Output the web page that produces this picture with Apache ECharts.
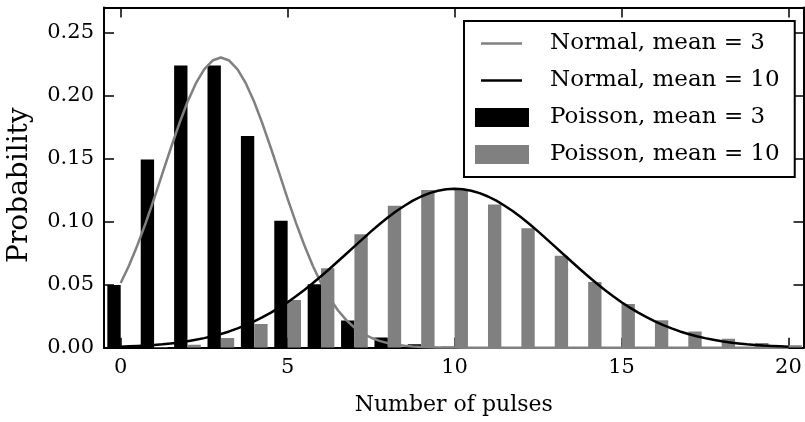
<!DOCTYPE html>
<html><head><meta charset="utf-8">
<script src="https://cdn.jsdelivr.net/npm/echarts@6/dist/echarts.min.js"></script>
<style>html,body{margin:0;padding:0;background:#fff}#c{width:805px;height:422px}</style>
</head><body><div id="c"></div>
<script>
// ---- data ----
const pulses = [0,1,2,3,4,5,6,7,8,9,10,11,12,13,14,15,16,17,18,19,20];
const poisson3 = [0.0498,0.1494,0.2240,0.2240,0.1680,0.1008,0.0504,0.0216,0.0081,0.0027,0.0008,0.0002,0.0001,0,0,0,0,0,0,0,0];
const poisson10 = [0.00005,0.0005,0.0023,0.0076,0.0189,0.0378,0.0631,0.0901,0.1126,0.1251,0.1251,0.1137,0.0948,0.0729,0.0521,0.0347,0.0217,0.0128,0.0071,0.0037,0.0019];
const curveX = [0,0.25,0.5,0.75,1,1.25,1.5,1.75,2,2.25,2.5,2.75,3,3.25,3.5,3.75,4,4.25,4.5,4.75,5,5.25,5.5,5.75,6,6.25,6.5,6.75,7,7.25,7.5,7.75,8,8.25,8.5,8.75,9,9.25,9.5,9.75,10,
  10.25,10.5,10.75,11,11.25,11.5,11.75,12,12.25,12.5,12.75,13,13.25,13.5,13.75,14,14.25,14.5,14.75,15,15.25,15.5,15.75,16,16.25,16.5,16.75,17,17.25,17.5,17.75,18,18.25,18.5,18.75,19,19.25,19.5,19.75,20];
const normal3 = [0.0514,0.0653,0.0813,0.0991,0.1182,0.1383,0.1583,0.1775,0.1950,0.2097,0.2209,0.2279,0.2303,0.2279,0.2209,0.2097,0.1950,0.1775,0.1583,0.1383,0.1182,0.0991,0.0813,0.0653,0.0514,0.0396,0.0299,0.0221,0.0160,0.0114,0.0079,0.0054,0.0036,0.0023,0.0015,0.0009,0.0006,0.0004,0.0002,0.0001,0.0001,
  0,0,0,0,0,0,0,0,0,0,0,0,0,0,0,0,0,0,0,0,0,0,0,0,0,0,0,0,0,0,0,0,0,0,0,0,0,0,0,0];
const normal10 = [0.0008,0.0011,0.0014,0.0017,0.0022,0.0027,0.0034,0.0042,0.0051,0.0063,0.0076,0.0091,0.0109,0.0129,0.0153,0.0179,0.0209,0.0242,0.0278,0.0318,0.0361,0.0408,0.0458,0.0511,0.0567,0.0625,0.0684,0.0744,0.0804,0.0864,0.0923,0.0980,0.1033,0.1083,0.1127,0.1167,0.1200,0.1227,0.1246,0.1258,0.1262,
  0.1258,0.1246,0.1227,0.1200,0.1167,0.1127,0.1083,0.1033,0.0980,0.0923,0.0864,0.0804,0.0744,0.0684,0.0625,0.0567,0.0511,0.0458,0.0408,0.0361,0.0318,0.0278,0.0242,0.0209,0.0179,0.0153,0.0129,0.0109,0.0091,0.0076,0.0063,0.0051,0.0042,0.0034,0.0027,0.0022,0.0017,0.0014,0.0011,0.0008];
const seriesNames = ['Normal, mean = 3','Normal, mean = 10','Poisson, mean = 3','Poisson, mean = 10'];
const xLabelStep = 5;
const yLabelStep = 0.05;

// ---- styling ----
const FONT = 'DejaVu Serif';
const GRAY = '#808080';
const BAR_W = 0.4;

function barRenderer(offset) {
  return function (params, api) {
    const k = api.value(0), v = api.value(1);
    const a = api.coord([k + offset, v]);
    const b = api.coord([k + offset + BAR_W, 0]);
    return { type: 'rect', shape: { x: a[0], y: a[1], width: b[0] - a[0], height: b[1] - a[1] }, style: api.style() };
  };
}
function isStep(v, s) { return Math.abs(v / s - Math.round(v / s)) < 1e-6; }

const axisLineStyle = { color: '#000', width: 2 };
const tickStyle = { show: true, inside: true, length: 10, lineStyle: { color: '#000', width: 1.5 } };
const xBase = {
  type: 'value', min: -0.5, max: 20.45, splitNumber: 4, minInterval: 5, maxInterval: 5,
  axisLine: { show: true, onZero: false, lineStyle: axisLineStyle },
  axisTick: tickStyle, splitLine: { show: false }
};
const yBase = {
  type: 'value', min: 0, max: 0.27, interval: 0.05,
  axisLine: { show: true, onZero: false, lineStyle: axisLineStyle },
  axisTick: tickStyle, splitLine: { show: false }
};
const lineIcon = 'path://M0,0M54,19M6,8.25H47V10.75H6Z';

const chart = echarts.init(document.getElementById('c'), null, { renderer: 'canvas' });
chart.setOption({
  animation: false,
  backgroundColor: '#fff',
  textStyle: { fontFamily: FONT, color: '#000' },
  grid: { left: 104, right: 1.5, top: 7.5, bottom: 74.3, containLabel: false, outerBoundsMode: 'none' },
  xAxis: [
    Object.assign({}, xBase, {
      position: 'bottom',
      name: 'Number of pulses', nameLocation: 'middle', nameGap: 47,
      nameTextStyle: { fontFamily: FONT, fontSize: 22, color: '#000' },
      axisLabel: { show: true, margin: 9, fontFamily: FONT, fontSize: 21, color: '#000',
        showMinLabel: false, showMaxLabel: false,
        formatter: v => isStep(v, xLabelStep) ? String(Math.round(v)) : '' }
    }),
    Object.assign({}, xBase, { position: 'top', axisLabel: { show: false } })
  ],
  yAxis: [
    Object.assign({}, yBase, {
      position: 'left',
      name: 'Probability', nameLocation: 'middle', nameGap: 70,
      nameTextStyle: { fontFamily: FONT, fontSize: 28, color: '#000', padding: [0, 15, 0, 0] },
      axisLabel: { show: true, margin: 10, fontFamily: FONT, fontSize: 21, color: '#000',
        formatter: v => isStep(v, yLabelStep) ? v.toFixed(2) : '' }
    }),
    Object.assign({}, yBase, { position: 'right', axisLabel: { show: false } })
  ],
  legend: {
    orient: 'vertical', left: 464, top: 21,
    padding: [11, 15, 11, 11],
    itemWidth: 54, itemHeight: 19, itemGap: 14,
    backgroundColor: '#fff', borderColor: '#000', borderWidth: 2, borderRadius: 0,
    textStyle: { fontFamily: FONT, fontSize: 23, color: '#000', padding: [0, 0, 0, 16], lineHeight: 19 },
    data: [
      { name: seriesNames[0], icon: lineIcon, itemStyle: { borderWidth: 0 } },
      { name: seriesNames[1], icon: lineIcon, itemStyle: { borderWidth: 0 } },
      { name: seriesNames[2], icon: 'rect', itemStyle: { borderWidth: 0 } },
      { name: seriesNames[3], icon: 'rect', itemStyle: { borderWidth: 0 } }
    ]
  },
  series: [
    { name: seriesNames[2], type: 'custom', renderItem: barRenderer(-BAR_W), clip: true,
      itemStyle: { color: '#000' }, encode: { x: 0, y: 1 },
      data: pulses.map((k, i) => [k, poisson3[i]]), z: 2 },
    { name: seriesNames[3], type: 'custom', renderItem: barRenderer(0), clip: true,
      itemStyle: { color: GRAY }, encode: { x: 0, y: 1 },
      data: pulses.map((k, i) => [k, poisson10[i]]), z: 2 },
    { name: seriesNames[0], type: 'line', smooth: false, symbol: 'none', showSymbol: false,
      itemStyle: { color: GRAY }, lineStyle: { color: GRAY, width: 2.5, join: 'round' },
      data: curveX.map((x, i) => [x, normal3[i]]), z: 3 },
    { name: seriesNames[1], type: 'line', smooth: false, symbol: 'none', showSymbol: false,
      itemStyle: { color: '#000' }, lineStyle: { color: '#000', width: 2.5, join: 'round' },
      data: curveX.map((x, i) => [x, normal10[i]]), z: 4 }
  ]
});
</script>
</body></html>
